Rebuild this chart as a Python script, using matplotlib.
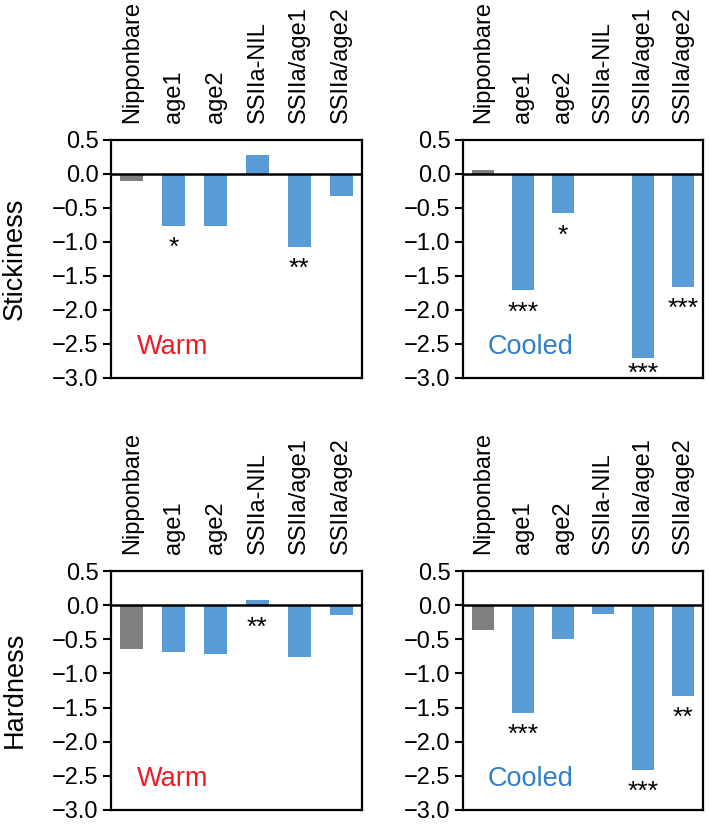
import matplotlib.pyplot as plt

plt.rcParams['font.family'] = ['Liberation Sans', 'DejaVu Sans']

# ── Data ──────────────────────────────────────────────────────────────────────
lines = ["Nipponbare", "age1", "age2", "SSIIa-NIL", "SSIIa/age1", "SSIIa/age2"]

stick_warm = [-0.11, -0.76, -0.76, 0.28, -1.07, -0.32]
stick_cool = [0.06, -1.71, -0.58, 0.0, -2.71, -1.66]
hard_warm = [-0.64, -0.68, -0.72, 0.07, -0.76, -0.15]
hard_cool = [-0.37, -1.58, -0.50, -0.13, -2.41, -1.33]

stars_stick_warm = ["", "*", "", "", "**", ""]
stars_stick_cool = ["", "***", "*", "", "***", "***"]
stars_hard_warm = ["", "", "", "**", "", ""]
stars_hard_cool = ["", "***", "", "", "***", "**"]

yticks = [0.5, 0.0, -0.5, -1.0, -1.5, -2.0, -2.5, -3.0]

# ── Style ─────────────────────────────────────────────────────────────────────
BLUE = "#5b9bd5"
GREY = "#7f7f7f"
RED = "#ee1c25"
TXTBLUE = "#2f80c8"

W, H = 709, 826
fig = plt.figure(figsize=(W / 100, H / 100), dpi=100)


def px_axes(x0, y0, x1, y1):
    # pixel box (top-left origin) -> figure fraction
    return fig.add_axes([x0 / W, 1 - y1 / H, (x1 - x0) / W, (y1 - y0) / H])


def panel(ax, vals, stars, label, label_color):
    cols = [GREY] + [BLUE] * (len(vals) - 1)
    ax.bar(range(len(vals)), vals, width=0.55, color=cols, zorder=2)
    ax.axhline(0, color="black", lw=1.8, zorder=3)
    ax.set_xlim(-0.5, len(vals) - 0.5)
    ax.set_ylim(-3.0, 0.5)
    ax.set_yticks(yticks)
    ax.set_yticklabels([f"{t:.1f}".replace("-", "\u2212") for t in yticks],
                       fontsize=17)
    ax.tick_params(axis="y", direction="out", length=6, width=1.5, pad=3)
    ax.xaxis.tick_top()
    ax.set_xticks(range(len(vals)))
    ax.set_xticklabels(lines, rotation=90, fontsize=17, va="bottom")
    ax.tick_params(axis="x", length=0, pad=12)
    for s in ax.spines.values():
        s.set_linewidth(1.6)
    # significance marks below each bar
    for i, (v, st) in enumerate(zip(vals, stars)):
        if st:
            y = max(min(v, 0) - 0.15, -2.76)
            ax.text(i, y, st, ha="center", va="top", fontsize=19)
    ax.text(0.12, -2.55, label, color=label_color, fontsize=19.5,
            ha="left", va="center")


ax1 = px_axes(111, 140, 362, 378)
ax2 = px_axes(463, 140, 703, 378)
ax3 = px_axes(111, 571, 362, 810)
ax4 = px_axes(463, 571, 703, 810)

panel(ax1, stick_warm, stars_stick_warm, "Warm", RED)
panel(ax2, stick_cool, stars_stick_cool, "Cooled", TXTBLUE)
panel(ax3, hard_warm, stars_hard_warm, "Warm", RED)
panel(ax4, hard_cool, stars_hard_cool, "Cooled", TXTBLUE)

fig.text(15 / W, 1 - 259 / H, "Stickiness", rotation=90, fontsize=19.5,
         ha="center", va="center")
fig.text(15 / W, 1 - 690 / H, "Hardness", rotation=90, fontsize=19.5,
         ha="center", va="center")

fig.savefig("out.png", dpi=100, facecolor="white")
